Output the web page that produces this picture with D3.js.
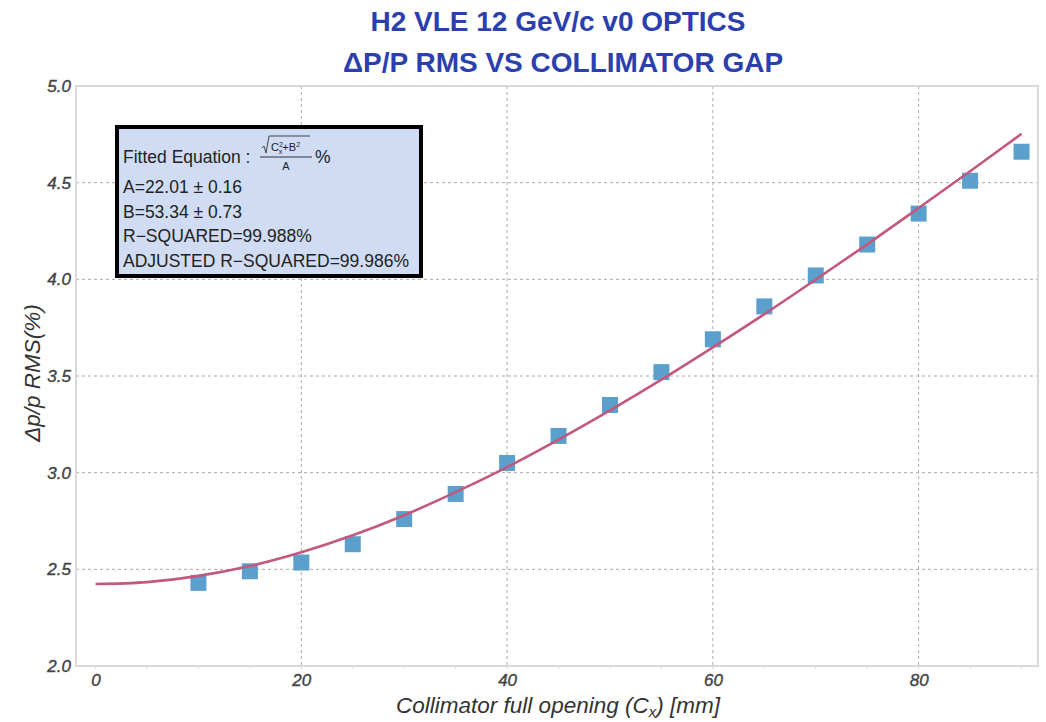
<!DOCTYPE html>
<html>
<head>
<meta charset="utf-8">
<script src="https://cdn.jsdelivr.net/npm/d3@7"></script>
<style>
  body { margin: 0; background: #fff; }
  svg { display: block; }
</style>
</head>
<body>
<svg id="chart" width="1046" height="722"></svg>
<script>
// ---- data ----
const titleLines = ["H2 VLE 12 GeV/c v0 OPTICS", "\u0394P/P RMS VS COLLIMATOR GAP"];
const gapValues = [10, 15, 20, 25, 30, 35, 40, 45, 50, 55, 60, 65, 70, 75, 80, 85, 90];
const rmsValues = [2.43, 2.49, 2.535, 2.63, 2.76, 2.89, 3.05, 3.19, 3.35, 3.52, 3.69, 3.86, 4.02, 4.18, 4.34, 4.51, 4.66];
const fitGap = [0, 5, 10, 15, 20, 25, 30, 35, 40, 45, 50, 55, 60, 65, 70, 75, 80, 85, 90];
const fitRms = [2.424, 2.434, 2.466, 2.517, 2.588, 2.676, 2.780, 2.899, 3.029, 3.171, 3.322, 3.481, 3.648, 3.820, 3.999, 4.181, 4.369, 4.559, 4.753];
const xTicks = [0, 20, 40, 60, 80];
const yTicks = [2.0, 2.5, 3.0, 3.5, 4.0, 4.5, 5.0];
const boxLines = ["A=22.01 \u00b1 0.16", "B=53.34 \u00b1 0.73", "R\u2212SQUARED=99.988%", "ADJUSTED R\u2212SQUARED=99.986%"];

// ---- layout ----
const svg = d3.select("#chart");
const L = 76, R = 1038, T = 86, B = 666;
const x = d3.scaleLinear().domain([-1.9, 91.6]).range([L, R]);
const y = d3.scaleLinear().domain([2, 5]).range([B, T]);
const font = "'Liberation Sans', Arial, sans-serif";

// title
svg.selectAll("text.title").data(titleLines).enter().append("text")
  .attr("x", (d, i) => i === 0 ? 558 : 563).attr("y", (d, i) => 31 + i * 41)
  .attr("text-anchor", "middle").attr("font-family", font)
  .attr("font-weight", "bold").attr("font-size", 28).attr("fill", "#2c3fae")
  .text(d => d);

// grid
const grid = svg.append("g");
grid.selectAll("line.gx").data(xTicks.filter(d => d > 0)).enter().append("line")
  .attr("x1", d => x(d)).attr("x2", d => x(d)).attr("y1", T).attr("y2", B)
  .attr("stroke", "#aaa").attr("stroke-dasharray", "3,3").attr("stroke-width", 1);
grid.selectAll("line.gy").data(yTicks.filter(d => d > 2 && d < 5)).enter().append("line")
  .attr("x1", L).attr("x2", R).attr("y1", d => y(d)).attr("y2", d => y(d))
  .attr("stroke", "#aaa").attr("stroke-dasharray", "3,3").attr("stroke-width", 1);

// frame
svg.append("rect").attr("x", L).attr("y", T).attr("width", R - L).attr("height", B - T)
  .attr("fill", "none").attr("stroke", "#d9d9d9").attr("stroke-width", 2);

// axes via d3
const xAxis = svg.append("g").attr("transform", `translate(0,${B})`)
  .call(d3.axisBottom(x).tickValues(xTicks).tickSize(0).tickPadding(8).tickFormat(d3.format("d")));
const yAxis = svg.append("g").attr("transform", `translate(${L},0)`)
  .call(d3.axisLeft(y).tickValues(yTicks).tickSize(0).tickPadding(5).tickFormat(d3.format(".1f")));
[xAxis, yAxis].forEach(a => {
  a.select(".domain").remove();
  a.selectAll("text").attr("font-family", font).attr("font-style", "italic")
    .attr("font-size", 17).attr("fill", "#444").attr("stroke", "#444").attr("stroke-width", 0.4);
});

// minor ticks
const minorX = d3.range(0, 91, 5);
svg.append("g").selectAll("line").data(minorX).enter().append("line")
  .attr("x1", d => x(d)).attr("x2", d => x(d)).attr("y1", B).attr("y2", B + 3)
  .attr("stroke", "#d9d9d9");

// axis titles
svg.append("text").attr("x", 558).attr("y", 713).attr("text-anchor", "middle")
  .attr("font-family", font).attr("font-style", "italic").attr("font-size", 22.5).attr("fill", "#333")
  .call(t => {
    t.append("tspan").text("Collimator full opening (C");
    t.append("tspan").attr("font-size", 15).attr("dy", 4).text("x");
    t.append("tspan").attr("dy", -4).text(") [mm]");
  });
svg.append("text").attr("transform", `translate(40,373) rotate(-90)`)
  .attr("text-anchor", "middle").attr("font-family", font).attr("font-style", "italic")
  .attr("font-size", 22.5).attr("fill", "#333").text("\u0394p/p RMS(%)");

// data points
const sz = 16;
svg.append("g").selectAll("rect").data(gapValues).enter().append("rect")
  .attr("x", (d) => x(d) - sz / 2).attr("y", (d, i) => y(rmsValues[i]) - sz / 2)
  .attr("width", sz).attr("height", sz).attr("fill", "#5ba0cc");

// fit curve
const line = d3.line().x(d => x(d[0])).y(d => y(d[1])).curve(d3.curveCatmullRom);
svg.append("path").datum(fitGap.map((g, i) => [g, fitRms[i]]))
  .attr("d", line).attr("fill", "none").attr("stroke", "#c3587f").attr("stroke-width", 2.6);

// info box
const bx = 117, by = 127, bw = 304, bh = 149;
svg.append("rect").attr("x", bx).attr("y", by).attr("width", bw).attr("height", bh)
  .attr("fill", "#cfdcf4").attr("stroke", "#000").attr("stroke-width", 4);
const tf = { family: font, size: 17.5, fill: "#222" };
const eq = svg.append("g");
eq.append("text").attr("x", 123).attr("y", 163).attr("font-family", tf.family)
  .attr("font-size", tf.size).attr("fill", tf.fill).text("Fitted Equation :");
// fraction
const fx = 262;
eq.append("text").attr("x", fx + 9).attr("y", 151).attr("font-family", font).attr("font-size", 11)
  .attr("fill", tf.fill).call(t => {
    t.append("tspan").text("C");
    t.append("tspan").attr("font-size", 7).attr("dy", -4).text("2");
    t.append("tspan").attr("font-size", 7).attr("dx", -4).attr("dy", 7).text("x");
    t.append("tspan").attr("dy", -3).text("+B");
    t.append("tspan").attr("font-size", 7).attr("dy", -4).text("2");
  });
eq.append("path").attr("d", `M${fx},148 L${fx + 2},146 L${fx + 4},153 L${fx + 7},136 L${fx + 48},136`)
  .attr("fill", "none").attr("stroke", "#333").attr("stroke-width", 0.9);
eq.append("line").attr("x1", fx - 2).attr("x2", fx + 50).attr("y1", 157).attr("y2", 157)
  .attr("stroke", "#333").attr("stroke-width", 1.2);
eq.append("text").attr("x", fx + 24).attr("y", 170).attr("text-anchor", "middle").attr("font-family", font)
  .attr("font-size", 11).attr("fill", tf.fill).text("A");
eq.append("text").attr("x", fx + 53).attr("y", 163).attr("font-family", font)
  .attr("font-size", tf.size).attr("fill", tf.fill).text("%");
svg.append("g").selectAll("text").data(boxLines).enter().append("text")
  .attr("x", 123).attr("y", (d, i) => 193 + i * 24.7).attr("font-family", tf.family)
  .attr("font-size", tf.size).attr("fill", tf.fill).text(d => d);
</script>
</body>
</html>
